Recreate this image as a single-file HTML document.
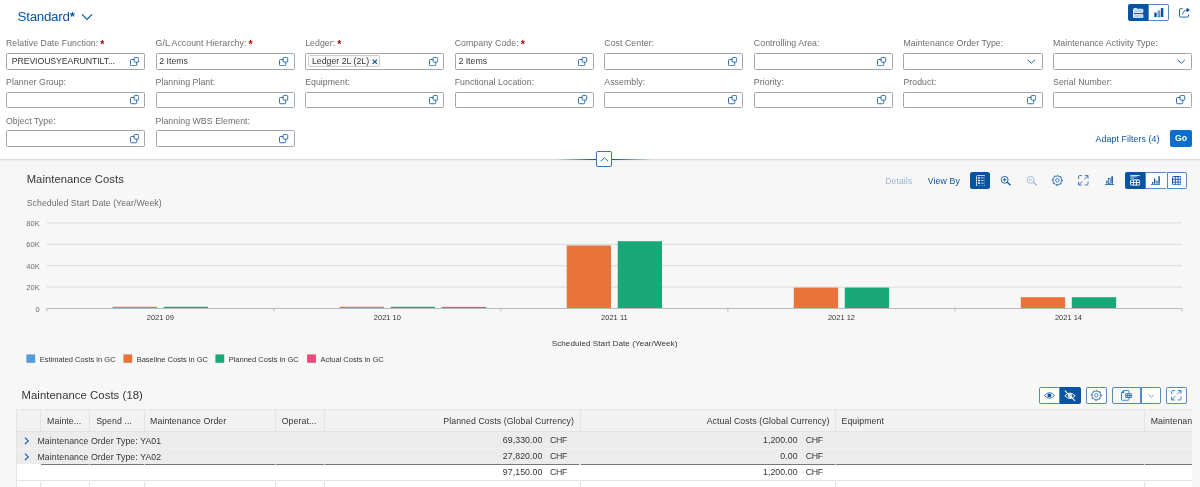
<!DOCTYPE html>
<html lang="en"><head><meta charset="utf-8"><title>Maintenance Costs</title>
<style>
*{box-sizing:border-box;margin:0;padding:0}
html,body{width:1200px;height:487px;overflow:hidden;background:#f7f7f7;font-family:"Liberation Sans",sans-serif;color:#32363a}
#hdr{position:absolute;left:0;top:0;width:1200px;height:160px;background:#fff;border-bottom:1px solid #dcdcdc;box-shadow:0 1px 2px rgba(0,0,0,0.05)}
.abs{position:absolute}
.lbl{position:absolute;letter-spacing:0.055px;font-size:8.75px;line-height:11px;color:#6a6d70;white-space:nowrap}
.req{color:#bb0000;font-weight:bold;margin-left:2px;font-size:10.5px;line-height:0;position:relative;top:2px}
.inp{position:absolute;width:139.2px;height:16.6px;border:1px solid #a0a7af;border-radius:1.5px;background:#fff}
.inp .val{position:absolute;left:2.7px;top:2.2px;font-size:8.75px;line-height:11px;white-space:nowrap;color:#32363a}
.inp .v0{left:4.7px;letter-spacing:-0.1px}
.vh{position:absolute;right:5.2px;top:2.9px;width:9.5px;height:9.5px}
.dd{position:absolute;right:5.6px;top:5.4px;width:8.6px;height:5.2px}
.tok{position:absolute;left:2.2px;top:1.2px;height:12.3px;width:72px;border:1px solid #cdcdcd;border-radius:2px;background:#fafafa}
.tok .tt{position:absolute;left:2.7px;top:0.1px;font-size:8.75px;line-height:11px;white-space:nowrap}
.tok .tx{position:absolute;right:2.1px;top:2.9px;width:5.6px;height:5.6px}
.blue{color:#0854a0}
.chf{letter-spacing:-0.33px !important}
.tc{position:absolute;letter-spacing:0.075px;font-size:8.75px;line-height:11px;white-space:nowrap;color:#32363a}
</style></head><body>
<div id="hdr">
<div class="abs blue" id="vtitle" style="left:17.6px;top:9px;font-size:13.4px;line-height:16px;letter-spacing:-0.3px;white-space:nowrap">Standard<b style="font-size:12.5px;margin-left:0.4px">*</b></div>
<svg class="abs" style="left:81px;top:13px;width:12px;height:8px" viewBox="0 0 12 8"><path d="M1 1.4 L6 6.4 L11 1.4" fill="none" stroke="#0854a0" stroke-width="1.1"/></svg>
<div class="lbl" style="left:6.0px;top:38.00px">Relative Date Function:<span class="req">*</span></div>
<div class="inp" style="left:6.0px;top:53px"><span class="val v0">PREVIOUSYEARUNTILT...</span><svg class="vh" viewBox="0 0 10 10"><rect x="0.5" y="2.6" width="6.6" height="6.6" rx="1.2" fill="none" stroke="#0854a0" stroke-width="0.9"/><rect x="4.3" y="0.5" width="4.9" height="4.9" rx="1.2" fill="#fff" stroke="#0854a0" stroke-width="0.9"/></svg></div>
<div class="lbl" style="left:155.57px;top:38.00px">G/L Account Hierarchy:<span class="req">*</span></div>
<div class="inp" style="left:155.57px;top:53px"><span class="val">2 Items</span><svg class="vh" viewBox="0 0 10 10"><rect x="0.5" y="2.6" width="6.6" height="6.6" rx="1.2" fill="none" stroke="#0854a0" stroke-width="0.9"/><rect x="4.3" y="0.5" width="4.9" height="4.9" rx="1.2" fill="#fff" stroke="#0854a0" stroke-width="0.9"/></svg></div>
<div class="lbl" style="left:305.14px;top:38.00px">Ledger:<span class="req">*</span></div>
<div class="inp" style="left:305.14px;top:53px"><span class="tok"><span class="tt">Ledger 2L (2L)</span><svg class="tx" viewBox="0 0 6 6"><path d="M0.7 0.7 L5.3 5.3 M5.3 0.7 L0.7 5.3" stroke="#0854a0" stroke-width="1.2" fill="none"/></svg></span><svg class="vh" viewBox="0 0 10 10"><rect x="0.5" y="2.6" width="6.6" height="6.6" rx="1.2" fill="none" stroke="#0854a0" stroke-width="0.9"/><rect x="4.3" y="0.5" width="4.9" height="4.9" rx="1.2" fill="#fff" stroke="#0854a0" stroke-width="0.9"/></svg></div>
<div class="lbl" style="left:454.71px;top:38.00px">Company Code:<span class="req">*</span></div>
<div class="inp" style="left:454.71px;top:53px"><span class="val">2 Items</span><svg class="vh" viewBox="0 0 10 10"><rect x="0.5" y="2.6" width="6.6" height="6.6" rx="1.2" fill="none" stroke="#0854a0" stroke-width="0.9"/><rect x="4.3" y="0.5" width="4.9" height="4.9" rx="1.2" fill="#fff" stroke="#0854a0" stroke-width="0.9"/></svg></div>
<div class="lbl" style="left:604.28px;top:38.00px">Cost Center:</div>
<div class="inp" style="left:604.28px;top:53px"><svg class="vh" viewBox="0 0 10 10"><rect x="0.5" y="2.6" width="6.6" height="6.6" rx="1.2" fill="none" stroke="#0854a0" stroke-width="0.9"/><rect x="4.3" y="0.5" width="4.9" height="4.9" rx="1.2" fill="#fff" stroke="#0854a0" stroke-width="0.9"/></svg></div>
<div class="lbl" style="left:753.85px;top:38.00px">Controlling Area:</div>
<div class="inp" style="left:753.85px;top:53px"><svg class="vh" viewBox="0 0 10 10"><rect x="0.5" y="2.6" width="6.6" height="6.6" rx="1.2" fill="none" stroke="#0854a0" stroke-width="0.9"/><rect x="4.3" y="0.5" width="4.9" height="4.9" rx="1.2" fill="#fff" stroke="#0854a0" stroke-width="0.9"/></svg></div>
<div class="lbl" style="left:903.42px;top:38.00px">Maintenance Order Type:</div>
<div class="inp" style="left:903.42px;top:53px"><svg class="dd" viewBox="0 0 10 6"><path d="M0.7 0.9 L5 4.9 L9.3 0.9" fill="none" stroke="#0854a0" stroke-width="1.05"/></svg></div>
<div class="lbl" style="left:1052.99px;top:38.00px">Maintenance Activity Type:</div>
<div class="inp" style="left:1052.99px;top:53px"><svg class="dd" viewBox="0 0 10 6"><path d="M0.7 0.9 L5 4.9 L9.3 0.9" fill="none" stroke="#0854a0" stroke-width="1.05"/></svg></div>
<div class="lbl" style="left:6.0px;top:77.00px">Planner Group:</div>
<div class="inp" style="left:6.0px;top:91.5px"><svg class="vh" viewBox="0 0 10 10"><rect x="0.5" y="2.6" width="6.6" height="6.6" rx="1.2" fill="none" stroke="#0854a0" stroke-width="0.9"/><rect x="4.3" y="0.5" width="4.9" height="4.9" rx="1.2" fill="#fff" stroke="#0854a0" stroke-width="0.9"/></svg></div>
<div class="lbl" style="left:155.57px;top:77.00px">Planning Plant:</div>
<div class="inp" style="left:155.57px;top:91.5px"><svg class="vh" viewBox="0 0 10 10"><rect x="0.5" y="2.6" width="6.6" height="6.6" rx="1.2" fill="none" stroke="#0854a0" stroke-width="0.9"/><rect x="4.3" y="0.5" width="4.9" height="4.9" rx="1.2" fill="#fff" stroke="#0854a0" stroke-width="0.9"/></svg></div>
<div class="lbl" style="left:305.14px;top:77.00px">Equipment:</div>
<div class="inp" style="left:305.14px;top:91.5px"><svg class="vh" viewBox="0 0 10 10"><rect x="0.5" y="2.6" width="6.6" height="6.6" rx="1.2" fill="none" stroke="#0854a0" stroke-width="0.9"/><rect x="4.3" y="0.5" width="4.9" height="4.9" rx="1.2" fill="#fff" stroke="#0854a0" stroke-width="0.9"/></svg></div>
<div class="lbl" style="left:454.71px;top:77.00px">Functional Location:</div>
<div class="inp" style="left:454.71px;top:91.5px"><svg class="vh" viewBox="0 0 10 10"><rect x="0.5" y="2.6" width="6.6" height="6.6" rx="1.2" fill="none" stroke="#0854a0" stroke-width="0.9"/><rect x="4.3" y="0.5" width="4.9" height="4.9" rx="1.2" fill="#fff" stroke="#0854a0" stroke-width="0.9"/></svg></div>
<div class="lbl" style="left:604.28px;top:77.00px">Assembly:</div>
<div class="inp" style="left:604.28px;top:91.5px"><svg class="vh" viewBox="0 0 10 10"><rect x="0.5" y="2.6" width="6.6" height="6.6" rx="1.2" fill="none" stroke="#0854a0" stroke-width="0.9"/><rect x="4.3" y="0.5" width="4.9" height="4.9" rx="1.2" fill="#fff" stroke="#0854a0" stroke-width="0.9"/></svg></div>
<div class="lbl" style="left:753.85px;top:77.00px">Priority:</div>
<div class="inp" style="left:753.85px;top:91.5px"><svg class="vh" viewBox="0 0 10 10"><rect x="0.5" y="2.6" width="6.6" height="6.6" rx="1.2" fill="none" stroke="#0854a0" stroke-width="0.9"/><rect x="4.3" y="0.5" width="4.9" height="4.9" rx="1.2" fill="#fff" stroke="#0854a0" stroke-width="0.9"/></svg></div>
<div class="lbl" style="left:903.42px;top:77.00px">Product:</div>
<div class="inp" style="left:903.42px;top:91.5px"><svg class="vh" viewBox="0 0 10 10"><rect x="0.5" y="2.6" width="6.6" height="6.6" rx="1.2" fill="none" stroke="#0854a0" stroke-width="0.9"/><rect x="4.3" y="0.5" width="4.9" height="4.9" rx="1.2" fill="#fff" stroke="#0854a0" stroke-width="0.9"/></svg></div>
<div class="lbl" style="left:1052.99px;top:77.00px">Serial Number:</div>
<div class="inp" style="left:1052.99px;top:91.5px"><svg class="vh" viewBox="0 0 10 10"><rect x="0.5" y="2.6" width="6.6" height="6.6" rx="1.2" fill="none" stroke="#0854a0" stroke-width="0.9"/><rect x="4.3" y="0.5" width="4.9" height="4.9" rx="1.2" fill="#fff" stroke="#0854a0" stroke-width="0.9"/></svg></div>
<div class="lbl" style="left:6.0px;top:116.00px">Object Type:</div>
<div class="inp" style="left:6.0px;top:130.2px"><svg class="vh" viewBox="0 0 10 10"><rect x="0.5" y="2.6" width="6.6" height="6.6" rx="1.2" fill="none" stroke="#0854a0" stroke-width="0.9"/><rect x="4.3" y="0.5" width="4.9" height="4.9" rx="1.2" fill="#fff" stroke="#0854a0" stroke-width="0.9"/></svg></div>
<div class="lbl" style="left:155.57px;top:116.00px">Planning WBS Element:</div>
<div class="inp" style="left:155.57px;top:130.2px"><svg class="vh" viewBox="0 0 10 10"><rect x="0.5" y="2.6" width="6.6" height="6.6" rx="1.2" fill="none" stroke="#0854a0" stroke-width="0.9"/><rect x="4.3" y="0.5" width="4.9" height="4.9" rx="1.2" fill="#fff" stroke="#0854a0" stroke-width="0.9"/></svg></div>
<div class="abs blue" id="adapt" style="left:1095.6px;top:133.6px;letter-spacing:0.1px;font-size:8.75px;line-height:11px;white-space:nowrap">Adapt Filters (4)</div>
<div class="abs" id="go" style="left:1169.7px;top:130.2px;width:22.6px;height:16.6px;background:#0a6ed1;border-radius:2px;color:#fff;font-weight:bold;font-size:8.75px;line-height:16.5px;text-align:center">Go</div>
</div>
<svg class="abs" style="left:0;top:160px;width:1200px;height:220px" viewBox="0 160 1200 220">
<style>.ax{font-family:"Liberation Sans",sans-serif;font-size:7.5px;fill:#6a6d70}.cat{fill:#32363a}.ttl{fill:#32363a}.lg{fill:#32363a}</style>
<line x1="46.8" x2="1182" y1="222.90" y2="222.90" stroke="#d8dbde" stroke-width="1"/>
<text x="39.7" y="225.90" text-anchor="end" class="ax">80K</text>
<line x1="46.8" x2="1182" y1="244.30" y2="244.30" stroke="#d8dbde" stroke-width="1"/>
<text x="39.7" y="247.30" text-anchor="end" class="ax">60K</text>
<line x1="46.8" x2="1182" y1="265.70" y2="265.70" stroke="#d8dbde" stroke-width="1"/>
<text x="39.7" y="268.70" text-anchor="end" class="ax">40K</text>
<line x1="46.8" x2="1182" y1="287.10" y2="287.10" stroke="#d8dbde" stroke-width="1"/>
<text x="39.7" y="290.10" text-anchor="end" class="ax">20K</text>
<text x="39.7" y="311.70" text-anchor="end" class="ax">0</text>
<rect x="112.65" y="306.79" width="44.3" height="2.11" fill="#e8743b"/>
<rect x="163.65" y="306.79" width="44.3" height="2.11" fill="#19a979"/>
<rect x="339.69" y="306.79" width="44.3" height="2.11" fill="#e8743b"/>
<rect x="390.69" y="306.79" width="44.3" height="2.11" fill="#19a979"/>
<rect x="441.69" y="306.89" width="44.3" height="2.00" fill="#ed4a7b"/>
<rect x="566.73" y="245.48" width="44.3" height="63.42" fill="#e8743b"/>
<rect x="617.73" y="241.20" width="44.3" height="67.70" fill="#19a979"/>
<rect x="793.77" y="287.58" width="44.3" height="21.32" fill="#e8743b"/>
<rect x="844.77" y="287.58" width="44.3" height="21.32" fill="#19a979"/>
<rect x="1020.81" y="297.20" width="44.3" height="11.70" fill="#e8743b"/>
<rect x="1071.81" y="297.20" width="44.3" height="11.70" fill="#19a979"/>
<line x1="46.8" x2="1182" y1="308.5" y2="308.5" stroke="#b5babf" stroke-width="1"/>
<line x1="46.80" x2="46.80" y1="308.5" y2="311.5" stroke="#b5babf" stroke-width="1"/>
<line x1="273.84" x2="273.84" y1="308.5" y2="311.5" stroke="#b5babf" stroke-width="1"/>
<line x1="500.88" x2="500.88" y1="308.5" y2="311.5" stroke="#b5babf" stroke-width="1"/>
<line x1="727.92" x2="727.92" y1="308.5" y2="311.5" stroke="#b5babf" stroke-width="1"/>
<line x1="954.96" x2="954.96" y1="308.5" y2="311.5" stroke="#b5babf" stroke-width="1"/>
<line x1="1182.00" x2="1182.00" y1="308.5" y2="311.5" stroke="#b5babf" stroke-width="1"/>
<text x="160.32" y="320.2" text-anchor="middle" class="ax cat">2021 09</text>
<text x="387.36" y="320.2" text-anchor="middle" class="ax cat">2021 10</text>
<text x="614.40" y="320.2" text-anchor="middle" class="ax cat">2021 11</text>
<text x="841.44" y="320.2" text-anchor="middle" class="ax cat">2021 12</text>
<text x="1068.48" y="320.2" text-anchor="middle" class="ax cat">2021 14</text>
<text x="614.6" y="345.7" text-anchor="middle" class="ax ttl" style="font-size:8.125px;letter-spacing:0.055px">Scheduled Start Date (Year/Week)</text>
<rect x="26.4" y="354.4" width="8.8" height="8.4" fill="#5899da"/>
<text x="39.7" y="361.7" class="ax lg">Estimated Costs in GC</text>
<rect x="123.4" y="354.4" width="8.8" height="8.4" fill="#e8743b"/>
<text x="136.70000000000002" y="361.7" class="ax lg">Baseline Costs in GC</text>
<rect x="215.4" y="354.4" width="8.8" height="8.4" fill="#19a979"/>
<text x="228.70000000000002" y="361.7" class="ax lg">Planned Costs in GC</text>
<rect x="307.1" y="354.4" width="8.8" height="8.4" fill="#ed4a7b"/>
<text x="320.40000000000003" y="361.7" class="ax lg">Actual Costs in GC</text>
</svg>
<div class="abs" id="ctitle" style="left:26.7px;top:172.3px;letter-spacing:0.05px;font-size:11.25px;line-height:14px;white-space:nowrap">Maintenance Costs</div>
<div class="abs" id="csub" style="left:26.7px;top:198px;letter-spacing:0.04px;font-size:8.75px;line-height:11px;white-space:nowrap;color:#6a6d70">Scheduled Start Date (Year/Week)</div>
<div class="abs" id="ttitle" style="left:21.5px;top:387.6px;letter-spacing:0.09px;font-size:11.25px;line-height:14px;white-space:nowrap">Maintenance Costs (18)</div>
<div class="abs" style="left:16.5px;top:409px;width:1175.5px;height:23px;background:#f2f2f2;border-top:1px solid #e4e4e4;border-bottom:1px solid #e4e4e4"></div>
<div class="abs" style="left:16.5px;top:432px;width:1175.5px;height:16.5px;background:#ececec;border-bottom:1px solid #f1f1f1"></div>
<div class="abs" style="left:16.5px;top:448.5px;width:1175.5px;height:15.800000000000011px;background:#ececec"></div>
<div class="abs" style="left:16.5px;top:464.3px;width:1175.5px;height:16.69999999999999px;background:#fff;border-bottom:1px solid #e4e4e4"></div>
<div class="abs" style="left:16.5px;top:481px;width:1175.5px;height:16px;background:#fff"></div>
<div class="abs" style="left:40.6px;top:463.65000000000003px;width:1151.4px;height:1.3px;background:#74777b"></div>
<div class="abs" style="left:89.0px;top:463.5px;width:1.2px;height:1.6px;background:#dcdcdc"></div>
<div class="abs" style="left:143.6px;top:463.5px;width:1.2px;height:1.6px;background:#dcdcdc"></div>
<div class="abs" style="left:274.7px;top:463.5px;width:1.2px;height:1.6px;background:#dcdcdc"></div>
<div class="abs" style="left:323.7px;top:463.5px;width:1.2px;height:1.6px;background:#dcdcdc"></div>
<div class="abs" style="left:579.4px;top:463.5px;width:1.2px;height:1.6px;background:#dcdcdc"></div>
<div class="abs" style="left:835.1px;top:463.5px;width:1.2px;height:1.6px;background:#dcdcdc"></div>
<div class="abs" style="left:1143.7px;top:463.5px;width:1.2px;height:1.6px;background:#dcdcdc"></div>
<div class="abs" style="left:16.0px;top:409px;width:1px;height:90px;background:#e4e4e4"></div>
<div class="abs" style="left:40.1px;top:410px;width:1px;height:22px;background:#e4e4e4"></div>
<div class="abs" style="left:40.1px;top:482px;width:1px;height:20px;background:#e4e4e4"></div>
<div class="abs" style="left:89.1px;top:410px;width:1px;height:22px;background:#e4e4e4"></div>
<div class="abs" style="left:89.1px;top:482px;width:1px;height:20px;background:#e4e4e4"></div>
<div class="abs" style="left:143.7px;top:410px;width:1px;height:22px;background:#e4e4e4"></div>
<div class="abs" style="left:143.7px;top:482px;width:1px;height:20px;background:#e4e4e4"></div>
<div class="abs" style="left:274.8px;top:410px;width:1px;height:22px;background:#e4e4e4"></div>
<div class="abs" style="left:274.8px;top:482px;width:1px;height:20px;background:#e4e4e4"></div>
<div class="abs" style="left:323.8px;top:410px;width:1px;height:22px;background:#e4e4e4"></div>
<div class="abs" style="left:323.8px;top:482px;width:1px;height:20px;background:#e4e4e4"></div>
<div class="abs" style="left:579.5px;top:410px;width:1px;height:22px;background:#e4e4e4"></div>
<div class="abs" style="left:579.5px;top:482px;width:1px;height:20px;background:#e4e4e4"></div>
<div class="abs" style="left:835.2px;top:410px;width:1px;height:22px;background:#e4e4e4"></div>
<div class="abs" style="left:835.2px;top:482px;width:1px;height:20px;background:#e4e4e4"></div>
<div class="abs" style="left:1143.8px;top:410px;width:1px;height:22px;background:#e4e4e4"></div>
<div class="abs" style="left:1143.8px;top:482px;width:1px;height:20px;background:#e4e4e4"></div>
<div class="tc " style="top:415.50px;left:47.10px">Mainte...</div>
<div class="tc " style="top:415.50px;left:96.20px">Spend ...</div>
<div class="tc " style="top:415.50px;left:150.10px">Maintenance Order</div>
<div class="tc " style="top:415.50px;left:281.70px">Operat...</div>
<div class="tc " style="top:415.50px;right:626.00px">Planned Costs (Global Currency)</div>
<div class="tc " style="top:415.50px;right:370.50px">Actual Costs (Global Currency)</div>
<div class="tc " style="top:415.50px;left:841.50px">Equipment</div>
<div class="tc" style="top:415.50px;left:1150.7px;width:41.2px;overflow:hidden">Maintenance</div>
<div class="tc " style="top:435.80px;left:37.50px">Maintenance Order Type: YA01</div>
<svg class="abs" style="left:24.3px;top:436.90px;width:5.4px;height:7.8px" viewBox="0 0 5.4 7.8"><path d="M0.9 0.7 L4.3 3.9 L0.9 7.1" fill="none" stroke="#0854a0" stroke-width="1.1"/></svg>
<div class="tc " style="top:434.80px;right:657.60px">69,330.00</div>
<div class="tc chf" style="top:434.80px;left:550.00px">CHF</div>
<div class="tc " style="top:434.80px;right:402.40px">1,200.00</div>
<div class="tc chf" style="top:434.80px;left:805.70px">CHF</div>
<div class="tc " style="top:451.80px;left:37.50px">Maintenance Order Type: YA02</div>
<svg class="abs" style="left:24.3px;top:452.90px;width:5.4px;height:7.8px" viewBox="0 0 5.4 7.8"><path d="M0.9 0.7 L4.3 3.9 L0.9 7.1" fill="none" stroke="#0854a0" stroke-width="1.1"/></svg>
<div class="tc " style="top:450.80px;right:657.60px">27,820.00</div>
<div class="tc chf" style="top:450.80px;left:550.00px">CHF</div>
<div class="tc " style="top:450.80px;right:402.40px">0.00</div>
<div class="tc chf" style="top:450.80px;left:805.70px">CHF</div>
<div class="tc " style="top:466.80px;right:657.60px">97,150.00</div>
<div class="tc chf" style="top:466.80px;left:550.00px">CHF</div>
<div class="tc " style="top:466.80px;right:402.40px">1,200.00</div>
<div class="tc chf" style="top:466.80px;left:805.70px">CHF</div>
<div class="abs" style="left:1128px;top:4.3px;width:20.4px;height:16.8px;background:#0854a0;border:1px solid rgba(8,84,160,.68);border-radius:2px 0 0 2px;"></div>
<div class="abs" style="left:1148.2px;top:4.3px;width:20.5px;height:16.8px;background:#fff;border:1px solid rgba(8,84,160,.68);border-radius:0 2px 2px 0;"></div>
<svg class="abs" style="left:1133px;top:7.6px;width:10.6px;height:10.4px" viewBox="0 0 10.6 10.4"><rect x="0.7" y="0.1" width="3.2" height="0.9" fill="#fff" opacity=".9"/><rect x="0.6" y="1.2" width="9.4" height="3.3" rx="0.9" fill="#fff" fill-opacity=".72" stroke="#fff" stroke-width="0.8"/><rect x="0.6" y="6.4" width="9.4" height="3.3" rx="0.9" fill="#fff" fill-opacity=".72" stroke="#fff" stroke-width="0.8"/><rect x="0.2" y="1.2" width="0.9" height="8.5" fill="#fff"/></svg>
<svg class="abs" style="left:1154px;top:8px;width:10px;height:10px" viewBox="0 0 10 10"><rect x="0.3" y="4.6" width="2.4" height="4.5" rx="0.4" fill="#0854a0"/><rect x="4.1" y="2.8" width="1.7" height="6.3" rx="0.5" fill="#0854a0" fill-opacity=".25" stroke="#0854a0" stroke-width="0.7"/><rect x="6.9" y="0" width="2.4" height="9.1" rx="0.4" fill="#0854a0"/></svg>
<svg class="abs" style="left:1179px;top:7.3px;width:11.5px;height:10.6px" viewBox="0 0 11.5 10.6"><path d="M3.6 1.6 H1.6 Q0.5 1.6 0.5 2.7 V9 Q0.5 10.1 1.6 10.1 H8.4 Q9.5 10.1 9.5 9 V7.4" fill="none" stroke="#0854a0" stroke-width="0.9"/><path d="M3.6 7.4 Q3.8 3.2 8.6 3" fill="none" stroke="#0854a0" stroke-width="0.9"/><path d="M7.6 0.4 L10.9 3 L7.6 5.6 Z" fill="#0854a0"/></svg>
<div class="abs" id="details" style="left:885.3px;top:176.3px;font-size:8.75px;line-height:11px;color:#0854a0;opacity:.4;white-space:nowrap">Details</div>
<div class="abs" id="viewby" style="letter-spacing:0.1px;left:927.8px;top:176.3px;font-size:8.75px;line-height:11px;color:#0854a0;white-space:nowrap">View By</div>
<div class="abs" style="left:969.8px;top:172px;width:20.7px;height:16.7px;background:#0854a0;border:1px solid rgba(8,84,160,.68);border-radius:2.5px;"></div>
<svg class="abs" style="left:975.6px;top:174.6px;width:9.8px;height:11.8px" viewBox="0 0 9.8 11.8"><rect x="0.5" y="0.5" width="8.8" height="10.8" rx="1.2" fill="none" stroke="#fff" stroke-width="0.9" opacity=".85"/><rect x="1.9" y="2.2" width="2.2" height="1.4" fill="#fff"/><rect x="5.1" y="2.5500000000000003" width="2.6" height="0.8" fill="#fff" opacity=".9"/><rect x="1.9" y="4.8" width="2.2" height="1.4" fill="#fff"/><rect x="5.1" y="5.1499999999999995" width="2.6" height="0.8" fill="#fff" opacity=".9"/><rect x="1.9" y="7.4" width="2.2" height="1.4" fill="#fff"/><rect x="5.1" y="7.75" width="2.6" height="0.8" fill="#fff" opacity=".9"/></svg>
<svg class="abs" style="left:1000px;top:174.5px;width:12px;height:12px" viewBox="0 0 12 12"><circle cx="4.7" cy="4.8" r="3.4" fill="none" stroke="#0854a0" stroke-width="0.9"/><path d="M7.2 7.3 L10.6 10.2" stroke="#0854a0" stroke-width="1.3" fill="none"/><path d="M3 4.8 H6.4 M4.7 3.1 V6.5" stroke="#0854a0" stroke-width="0.9"/></svg>
<svg class="abs" style="left:1026px;top:174.5px;width:12px;height:12px" viewBox="0 0 12 12"><g opacity=".4"><circle cx="4.7" cy="4.8" r="3.4" fill="none" stroke="#0854a0" stroke-width="0.9"/><path d="M7.2 7.3 L10.6 10.2" stroke="#0854a0" stroke-width="1.3" fill="none"/><path d="M3 4.8 H6.4" stroke="#0854a0" stroke-width="0.9"/></g></svg>
<svg class="abs" style="left:1051px;top:174px;width:13px;height:13px" viewBox="0 0 13 13"><circle cx="6.35" cy="6.35" r="5.0" fill="none" stroke="#0854a0" stroke-width="0.9" stroke-dasharray="1.963 1.963" stroke-dashoffset="0.982" transform="rotate(-90 6.35 6.35)"/><circle cx="6.35" cy="6.35" r="4.3" fill="none" stroke="#0854a0" stroke-width="0.7"/><circle cx="6.35" cy="6.35" r="1.75" fill="none" stroke="#0854a0" stroke-width="0.7"/></svg>
<svg class="abs" style="left:1078px;top:175px;width:10.6px;height:10.6px" viewBox="0 0 10.6 10.6"><path d="M4 0.6 H1.6 Q0.6 0.6 0.6 1.6 V4.2" fill="none" stroke="#0854a0" stroke-width="0.75"/><path d="M6.6 10 H9 Q10 10 10 9 V6.4" fill="none" stroke="#0854a0" stroke-width="0.75"/><path d="M6.2 4.4 L9.8 0.8 M6.8 0.6 H10 V3.8" fill="none" stroke="#0854a0" stroke-width="0.75"/><path d="M4.4 6.2 L0.8 9.8 M0.6 6.8 V10 H3.8" fill="none" stroke="#0854a0" stroke-width="0.75"/></svg>
<svg class="abs" style="left:1104.6px;top:175.6px;width:9px;height:9px" viewBox="0 0 9 9"><rect x="0" y="8.2" width="9" height="0.8" fill="#0854a0"/><rect x="1.2" y="4.6" width="1.3" height="3" fill="#0854a0"/><rect x="3.6" y="2.6" width="1.6" height="5" fill="none" stroke="#0854a0" stroke-width="0.7"/><rect x="6.4" y="0.2" width="1.5" height="7.4" fill="#0854a0"/></svg>
<div class="abs" style="left:1124.5px;top:172px;width:20.6px;height:16.7px;background:#0854a0;border:1px solid rgba(8,84,160,.68);border-radius:2px 0 0 2px;"></div>
<div class="abs" style="left:1144.9px;top:172px;width:21.6px;height:16.7px;background:#fff;border:1px solid rgba(8,84,160,.68);border-radius:0;border-right:none;"></div>
<div class="abs" style="left:1166.5px;top:172px;width:20.5px;height:16.7px;background:#fff;border:1px solid rgba(8,84,160,.68);border-radius:0 2px 2px 0;"></div>
<svg class="abs" style="left:1129.8px;top:175px;width:10.2px;height:10.6px" viewBox="0 0 10.2 10.6"><rect x="0.3" y="0.2" width="9.5" height="0.9" fill="#fff"/><rect x="0.3" y="1.5" width="6.5" height="0.8" fill="#fff" opacity=".8"/><rect x="0.3" y="2.7" width="3.6" height="0.8" fill="#fff" opacity=".8"/><rect x="0.5" y="4.9" width="9.2" height="5.2" rx="1.2" fill="none" stroke="#fff" stroke-width="1"/><path d="M0.5 7.5 H9.7 M3.6 4.9 V10.1 M6.6 4.9 V10.1" stroke="#fff" stroke-width="0.9"/></svg>
<svg class="abs" style="left:1151.2px;top:175.6px;width:9.2px;height:9.2px" viewBox="0 0 9.2 9.2"><rect x="0" y="8.3" width="9.2" height="0.8" fill="#0854a0"/><rect x="1" y="6" width="1.3" height="1.8" fill="#0854a0"/><rect x="3" y="2.6" width="1.3" height="5.2" fill="#0854a0"/><rect x="5.2" y="4.4" width="1.5" height="3.4" fill="#0854a0" opacity=".75"/><rect x="7.4" y="0.2" width="1.4" height="7.6" fill="#0854a0"/></svg>
<svg class="abs" style="left:1172px;top:175.6px;width:9.4px;height:9.4px" viewBox="0 0 9.4 9.4"><rect x="0.5" y="0.5" width="8.4" height="8.4" rx="1" fill="none" stroke="#0854a0" stroke-width="1"/><path d="M0.5 3.3 H8.9 M0.5 6.1 H8.9 M3.3 0.5 V8.9 M6.1 0.5 V8.9" stroke="#0854a0" stroke-width="0.9"/></svg>
<div class="abs" style="left:1038.9px;top:387.2px;width:21.4px;height:16.5px;background:#fff;border:1px solid rgba(8,84,160,.68);border-radius:2px 0 0 2px;"></div>
<div class="abs" style="left:1060.1px;top:387.2px;width:20.6px;height:16.5px;background:#0854a0;border:1px solid rgba(8,84,160,.68);border-radius:0 2px 2px 0;"></div>
<svg class="abs" style="left:1044px;top:392px;width:11px;height:7px" viewBox="0 0 11 7"><path d="M0.4 3.5 Q5.5 -2.2 10.6 3.5 Q5.5 9.2 0.4 3.5 Z" fill="none" stroke="#0854a0" stroke-width="0.8"/><circle cx="5.3" cy="3.4" r="1.9" fill="#0854a0"/></svg>
<svg class="abs" style="left:1064.4px;top:389.8px;width:12px;height:11.4px" viewBox="0 0 12 11.4"><path d="M0.8 5.8 Q6 0.4 11.2 5.8 Q6 11.2 0.8 5.8 Z" fill="none" stroke="#fff" stroke-width="0.95"/><circle cx="6" cy="5.8" r="1.8" fill="#fff" fill-opacity=".45" stroke="#fff" stroke-width="0.9"/><path d="M0.8 0.6 L11 10.8" stroke="#fff" stroke-width="1.05"/></svg>
<div class="abs" style="left:1086.2px;top:387.2px;width:20.6px;height:16.5px;background:#fff;border:1px solid rgba(8,84,160,.68);border-radius:2px;"></div>
<svg class="abs" style="left:1089.9px;top:389.2px;width:13px;height:13px" viewBox="0 0 13 13"><circle cx="6.35" cy="6.35" r="5.0" fill="none" stroke="#0854a0" stroke-width="0.9" stroke-dasharray="1.963 1.963" stroke-dashoffset="0.982" transform="rotate(-90 6.35 6.35)"/><circle cx="6.35" cy="6.35" r="4.3" fill="none" stroke="#0854a0" stroke-width="0.7"/><circle cx="6.35" cy="6.35" r="1.75" fill="none" stroke="#0854a0" stroke-width="0.7"/></svg>
<div class="abs" style="left:1111.6px;top:387.2px;width:29.8px;height:16.5px;background:transparent;border:1px solid rgba(8,84,160,.68);border-radius:2px 0 0 2px;"></div>
<div class="abs" style="left:1140.6px;top:387.2px;width:20.5px;height:16.5px;background:#fff;border:1px solid rgba(8,84,160,.68);border-radius:0 2px 2px 0;"></div>
<svg class="abs" style="left:1121px;top:390px;width:11.4px;height:10.8px" viewBox="0 0 11.4 10.8"><path d="M2.7 0.5 H7.2 Q7.9 0.5 7.9 1.2 V3.2 M7.9 8 V9.6 Q7.9 10.3 7.2 10.3 H1.2 Q0.5 10.3 0.5 9.6 V2.7 L2.7 0.5" fill="none" stroke="#0854a0" stroke-width="0.8" stroke-opacity=".85"/><path d="M0.4 2.9 L2.9 0.4 V2.9 Z" fill="#0854a0"/><rect x="4.2" y="3.3" width="6.9" height="4.6" rx="0.8" fill="#0854a0" fill-opacity=".8"/><rect x="4.95" y="4.10" width="1.2" height="1.0" fill="#fff" fill-opacity=".8"/><rect x="4.95" y="6.00" width="1.2" height="1.0" fill="#fff" fill-opacity=".8"/><rect x="7.05" y="4.10" width="1.2" height="1.0" fill="#fff" fill-opacity=".8"/><rect x="7.05" y="6.00" width="1.2" height="1.0" fill="#fff" fill-opacity=".8"/><rect x="9.15" y="4.10" width="1.2" height="1.0" fill="#fff" fill-opacity=".8"/><rect x="9.15" y="6.00" width="1.2" height="1.0" fill="#fff" fill-opacity=".8"/></svg>
<svg class="abs" style="left:1147.6px;top:394.2px;width:6.8px;height:3.8px" viewBox="0 0 6.8 3.8"><path d="M0.4 0.4 L3.4 3.2 L6.4 0.4" fill="none" stroke="#0854a0" stroke-width="0.8" opacity=".65"/></svg>
<div class="abs" style="left:1166.4px;top:387.2px;width:20.6px;height:16.5px;background:#fff;border:1px solid rgba(8,84,160,.68);border-radius:2px;"></div>
<svg class="abs" style="left:1171.4px;top:390px;width:10.6px;height:10.6px" viewBox="0 0 10.6 10.6"><path d="M4 0.6 H1.6 Q0.6 0.6 0.6 1.6 V4.2" fill="none" stroke="#0854a0" stroke-width="0.75"/><path d="M6.6 10 H9 Q10 10 10 9 V6.4" fill="none" stroke="#0854a0" stroke-width="0.75"/><path d="M6.2 4.4 L9.8 0.8 M6.8 0.6 H10 V3.8" fill="none" stroke="#0854a0" stroke-width="0.75"/><path d="M4.4 6.2 L0.8 9.8 M0.6 6.8 V10 H3.8" fill="none" stroke="#0854a0" stroke-width="0.75"/></svg>
<div class="abs" style="left:556px;top:158.9px;width:40px;height:1px;background:linear-gradient(to right,rgba(8,84,160,0),#0854a0)"></div>
<div class="abs" style="left:612px;top:158.9px;width:40px;height:1px;background:linear-gradient(to left,rgba(8,84,160,0),#0854a0)"></div>
<div class="abs" style="left:596.1px;top:151px;width:15.7px;height:15.7px;background:#fff;border:1px solid rgba(8,84,160,.8);border-radius:2px"></div>
<svg class="abs" style="left:599.6px;top:156.8px;width:8.8px;height:5px" viewBox="0 0 8.8 5"><path d="M0.6 4.4 L4.4 0.8 L8.2 4.4" fill="none" stroke="#0854a0" stroke-width="0.9"/></svg>
</body></html>
